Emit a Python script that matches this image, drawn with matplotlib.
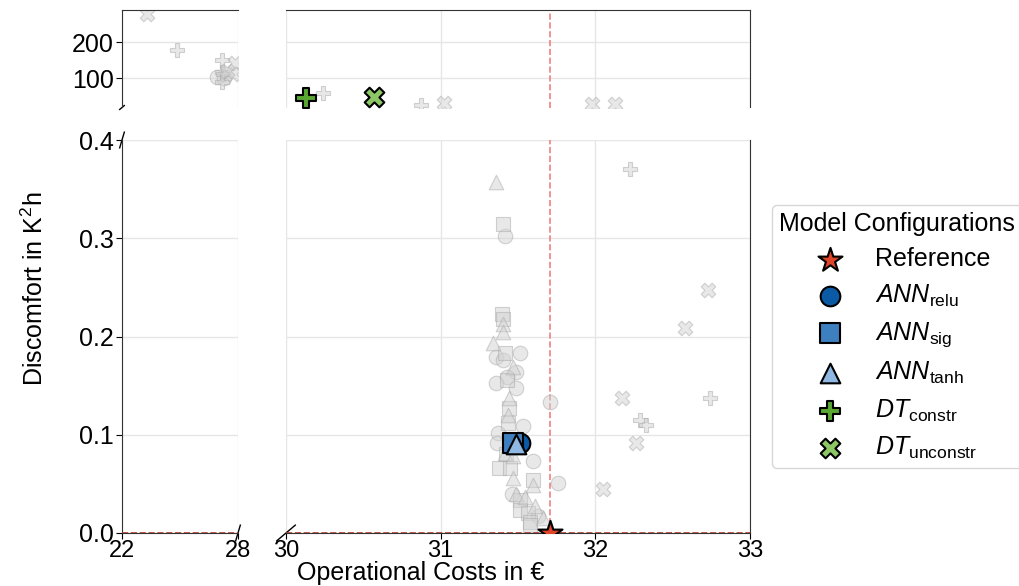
import numpy as np
import matplotlib
matplotlib.use('Agg')
import matplotlib.pyplot as plt

plt.rcParams['font.family'] = ['Liberation Sans', 'DejaVu Sans']
plt.rcParams['mathtext.fontset'] = 'custom'
plt.rcParams['mathtext.rm'] = 'Liberation Sans'
plt.rcParams['mathtext.it'] = 'Liberation Sans:italic'
plt.rcParams['font.size'] = 18

# all tested configurations (grey), x = costs in EUR, y = discomfort in K^2h
relu_x = [31.416, 31.36, 31.51, 31.40, 31.487, 31.427, 31.358, 31.49, 31.707, 31.53,
          31.369, 31.362, 31.595, 31.76, 31.459, 31.63, 26.93, 27.30]
relu_y = [0.302, 0.179, 0.183, 0.176, 0.164, 0.159, 0.153, 0.148, 0.133, 0.109,
          0.102, 0.092, 0.073, 0.051, 0.040, 0.017, 104, 100]
sig_x = [31.40, 31.394, 31.40, 31.416, 31.427, 31.444, 31.437, 31.38, 31.45, 31.60,
         31.513, 31.513, 31.567, 31.577, 31.577, 31.42]
sig_y = [0.314, 0.223, 0.218, 0.183, 0.156, 0.127, 0.112, 0.066, 0.066, 0.054,
         0.034, 0.023, 0.020, 0.0115, 0.008, 0.080]
tanh_x = [31.36, 31.40, 31.40, 31.336, 31.47, 31.444, 31.437, 31.416, 31.47, 31.47,
          31.595, 31.487, 31.545, 31.61, 31.66]
tanh_y = [0.357, 0.213, 0.205, 0.193, 0.169, 0.137, 0.120, 0.081, 0.078, 0.056,
          0.049, 0.040, 0.037, 0.027, 0.015]
constr_x = [32.224, 32.74, 32.29, 32.33, 24.86, 27.16, 27.16, 27.24, 27.16, 30.24, 30.87]
constr_y = [0.370, 0.137, 0.115, 0.110, 178, 150, 117, 111, 90, 59, 25]
unconstr_x = [32.73, 32.58, 32.174, 32.26, 32.05, 23.28, 27.84, 27.76, 27.45, 31.02, 31.98, 32.13]
unconstr_y = [0.247, 0.209, 0.137, 0.092, 0.045, 278, 141, 111, 120, 30, 28, 28]

# selected configurations
ref_x, ref_y = 31.71, 0.0
best_relu = (31.51, 0.092)
best_sig = (31.465, 0.092)
best_tanh = (31.49, 0.091)
best_constr = (30.13, 44)
best_unconstr = (30.57, 48)

fig = plt.figure(figsize=(10.19, 5.86), dpi=100)
W, H = 1019, 586
def box(x0, x1, y0, y1):
    return [x0 / W, 1 - y1 / H, (x1 - x0) / W, (y1 - y0) / H]

ax_tl = fig.add_axes(box(122, 238, 10, 107.5))
ax_tr = fig.add_axes(box(286, 750, 10, 107.5))
ax_bl = fig.add_axes(box(122, 238, 140, 533))
ax_br = fig.add_axes(box(286, 750, 140, 533))
axes = [ax_tl, ax_tr, ax_bl, ax_br]
top_axes = [ax_tl, ax_tr]

def part(xs, ys, top):
    # split into the upper (large discomfort) and lower range
    xs, ys = np.asarray(xs), np.asarray(ys)
    m = ys > 1 if top else ys <= 1
    return xs[m], ys[m]

grey = dict(facecolor='lightgrey', edgecolor='darkgrey', alpha=0.5, s=110, linewidths=0.8, zorder=2)
best = dict(edgecolor='black', linewidths=1.5, zorder=4)
series = [
    (relu_x, relu_y, 'o', best_relu, 200, '#0b5aa6', r'$ANN_{\mathrm{relu}}$'),
    (sig_x, sig_y, 's', best_sig, 200, '#3d7fbf', r'$ANN_{\mathrm{sig}}$'),
    (tanh_x, tanh_y, '^', best_tanh, 200, '#8fb9e3', r'$ANN_{\mathrm{tanh}}$'),
    (constr_x, constr_y, 'P', best_constr, 200, '#5aa832', r'$DT_{\mathrm{constr}}$'),
    (unconstr_x, unconstr_y, 'X', best_unconstr, 200, '#8cc665', r'$DT_{\mathrm{unconstr}}$'),
]

handles = []
for ax in axes:
    top = ax in top_axes
    h = []
    h.append(ax.scatter(*part([ref_x], [ref_y], top), marker='*', s=330, color='#e0442a',
                        label='Reference', **dict(best, zorder=5)))
    for xs, ys, mk, pt, size, col, lab in series:
        ax.scatter(*part(xs, ys, top), marker=mk, **grey)
        h.append(ax.scatter(*part([pt[0]], [pt[1]], top), marker=mk, s=size, color=col, label=lab, **best))
    ax.grid(True, color='#e6e6e6', linewidth=1)
    ax.set_axisbelow(True)
    if ax is ax_br:
        handles = h

for ax in [ax_tr, ax_br]:
    ax.axvline(ref_x, color='#f08080', linestyle='--', linewidth=1.2, zorder=1)
for ax in [ax_bl, ax_br]:
    ax.axhline(ref_y, color='#b03a2e', linestyle='--', linewidth=1.2, zorder=3)

for ax in [ax_tl, ax_bl]:
    ax.set_xlim(22, 28)
    ax.set_xticks([22, 28])
for ax in [ax_tr, ax_br]:
    ax.set_xlim(30, 33)
    ax.set_xticks([30, 31, 32, 33])
for ax in top_axes:
    ax.set_ylim(18, 290)
    ax.set_yticks([100, 200])
    ax.tick_params(bottom=False, labelbottom=False)
    ax.spines['bottom'].set_visible(False)
for ax in [ax_bl, ax_br]:
    ax.set_ylim(0, 0.4)
    ax.set_yticks([0.0, 0.1, 0.2, 0.3, 0.4])
    ax.spines['top'].set_visible(False)
for ax in [ax_tl, ax_bl]:
    ax.spines['right'].set_visible(False)
for ax in [ax_tr, ax_br]:
    ax.spines['left'].set_visible(False)
    ax.tick_params(left=False, labelleft=False)
for ax in axes:
    ax.tick_params(axis='y', labelsize=18, length=4, pad=2)
    ax.tick_params(axis='x', labelsize=17, length=4, pad=1)
    for s in ax.spines.values():
        s.set_color('#333333')

# break marks
d = 0.02
kw = dict(color='k', clip_on=False, linewidth=1)
ax_tl.plot((-d, d), (-d, d), transform=ax_tl.transAxes, **kw)
ax_bl.plot((-d, d), (1 - d, 1 + d), transform=ax_bl.transAxes, **kw)
ax_bl.plot((1 - d, 1 + d), (-d, d), transform=ax_bl.transAxes, **kw)
ax_br.plot((-d, d), (-d, d), transform=ax_br.transAxes, **kw)

fig.text(421 / W, 0.002, 'Operational Costs in €', ha='center', va='bottom', fontsize=18)
fig.text(35 / W, 0.507, r'Discomfort in K$^2$h', ha='center', va='center', rotation=90, fontsize=18)

ax_br.legend(handles=handles, title='Model Configurations', loc='center left',
             bbox_to_anchor=(1.02, 0.5), fontsize=18, title_fontsize=18,
             borderpad=0.3, labelspacing=0.45)

fig.savefig('out.png', dpi=100)
